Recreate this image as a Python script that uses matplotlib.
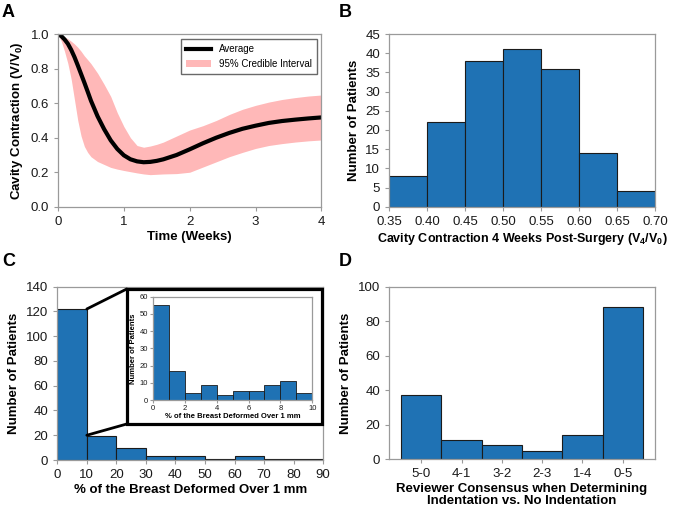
import numpy as np
import matplotlib
matplotlib.use("Agg")
import matplotlib.pyplot as plt
from matplotlib.patches import Rectangle, ConnectionPatch

plt.rcParams['font.family'] = ['Liberation Sans', 'DejaVu Sans']
plt.rcParams['mathtext.fontset'] = 'custom'
plt.rcParams['mathtext.rm'] = 'Liberation Sans'
plt.rcParams['mathtext.bf'] = 'Liberation Sans:bold'

# panel A: cavity contraction curve
t_weeks = [0, 0.05, 0.1, 0.15, 0.2, 0.25, 0.3, 0.35, 0.4, 0.45, 0.5, 0.6, 0.7, 0.8, 0.9,
           1.0, 1.1, 1.2, 1.3, 1.4, 1.5, 1.6, 1.8, 2.0, 2.2, 2.4, 2.6, 2.8, 3.0, 3.2,
           3.4, 3.6, 3.8, 4.0]
avg = [1.0, 0.99, 0.97, 0.945, 0.91, 0.868, 0.82, 0.77, 0.72, 0.668, 0.615, 0.525, 0.45,
       0.385, 0.335, 0.298, 0.275, 0.263, 0.258, 0.26, 0.266, 0.275, 0.30, 0.333, 0.368,
       0.40, 0.428, 0.452, 0.47, 0.486, 0.497, 0.505, 0.512, 0.518]
upper = [1.0, 0.995, 0.985, 0.974, 0.96, 0.944, 0.925, 0.902, 0.875, 0.853, 0.83, 0.775,
         0.71, 0.64, 0.545, 0.465, 0.40, 0.355, 0.345, 0.352, 0.362, 0.375, 0.41, 0.445,
         0.47, 0.50, 0.535, 0.565, 0.588, 0.607, 0.622, 0.633, 0.642, 0.648]
lower = [1.0, 0.96, 0.9, 0.83, 0.74, 0.62, 0.5, 0.41, 0.35, 0.315, 0.29, 0.262, 0.245,
         0.228, 0.218, 0.21, 0.203, 0.196, 0.19, 0.186, 0.188, 0.19, 0.192, 0.2, 0.23,
         0.26, 0.29, 0.315, 0.338, 0.355, 0.366, 0.375, 0.382, 0.387]

# panel B: contraction at 4 weeks
b_edges = [0.35, 0.40, 0.45, 0.50, 0.55, 0.60, 0.65, 0.70]
b_counts = [8, 22, 38, 41, 36, 14, 4]

# panel C: % breast deformed
c_edges = [0, 10, 20, 30, 40, 50, 60, 70, 80, 90]
c_counts = [122, 19, 10, 3, 3, 1, 3, 1, 1]
inset_edges = [0, 1, 2, 3, 4, 5, 6, 7, 8, 9, 10]
inset_counts = [55, 17, 4, 9, 3, 5, 5, 9, 11, 4]

# panel D: reviewer consensus
d_labels = ['5-0', '4-1', '3-2', '2-3', '1-4', '0-5']
d_counts = [37, 11, 8, 5, 14, 88]

bar_color = '#1f72b4'
edge_color = '#1b1b1b'
spine_color = '#9a9a9a'


def style(ax, fs=9.5):
    for s in ax.spines.values():
        s.set_color(spine_color)
        s.set_linewidth(0.9)
    ax.tick_params(colors=spine_color, labelcolor='#1a1a1a', labelsize=fs, length=3, width=0.8)


fig = plt.figure(figsize=(6.73, 5.07), dpi=100)

# A
axA = fig.add_axes([0.0862, 0.5923, 0.3915, 0.3400])
axA.fill_between(t_weeks, lower, upper, color='red', alpha=0.28, lw=0,
                 label='95% Credible Interval')
axA.plot(t_weeks, avg, color='black', lw=3, label='Average')
axA.set_xlim(0, 4)
axA.set_ylim(0, 1)
axA.set_xticks([0, 1, 2, 3, 4])
axA.set_yticks(np.arange(0, 1.01, 0.2))
axA.yaxis.set_major_formatter(plt.FormatStrFormatter('%.1f'))
axA.set_xlabel('Time (Weeks)', fontweight='bold', fontsize=9.5, labelpad=2)
axA.set_ylabel(r'Cavity Contraction (V/V$_\mathbf{0}$)', fontweight='bold', fontsize=9.5, labelpad=4)
h, l = axA.get_legend_handles_labels()
axA.legend(h[::-1], l[::-1], loc='upper right', fontsize=7, frameon=True, fancybox=False,
           edgecolor='#444444', handlelength=2.6, borderpad=0.5)
style(axA)

# B
axB = fig.add_axes([0.578, 0.5923, 0.3952, 0.3406])
axB.bar(b_edges[:-1], b_counts, width=np.diff(b_edges), align='edge',
        color=bar_color, edgecolor=edge_color, lw=0.8)
axB.set_xlim(0.35, 0.70)
axB.set_ylim(0, 45)
axB.set_xticks(b_edges)
axB.xaxis.set_major_formatter(plt.FormatStrFormatter('%.2f'))
axB.set_yticks(np.arange(0, 46, 5))
axB.set_xlabel(r'Cavity Contraction 4 Weeks Post-Surgery (V$_\mathbf{4}$/V$_\mathbf{0}$)',
               fontweight='bold', fontsize=9, labelpad=2)
axB.set_ylabel('Number of Patients', fontweight='bold', fontsize=9.5, labelpad=4)
style(axB)

# C
axC = fig.add_axes([0.0851, 0.0927, 0.3952, 0.3418])
axC.bar(c_edges[:-1], c_counts, width=np.diff(c_edges), align='edge',
        color=bar_color, edgecolor=edge_color, lw=0.8)
axC.set_xlim(0, 90)
axC.set_ylim(0, 140)
axC.set_xticks(c_edges)
axC.set_yticks(np.arange(0, 141, 20))
axC.set_xlabel('% of the Breast Deformed Over 1 mm', fontweight='bold', fontsize=9.5, labelpad=2)
axC.set_ylabel('Number of Patients', fontweight='bold', fontsize=9.5, labelpad=4)
style(axC)

# inset frame and connectors
frame = Rectangle((0.1883, 0.1637), 0.478 - 0.1883, 0.43 - 0.1637, transform=fig.transFigure,
                  fill=True, facecolor='white', edgecolor='black', lw=2.3, zorder=5)
fig.add_artist(frame)
for yv, fy in [(c_counts[0], 0.43), (c_counts[1] + 1, 0.1637)]:
    con = ConnectionPatch(xyA=(10, yv), coordsA=axC.transData,
                          xyB=(0.1883, fy), coordsB=fig.transFigure,
                          color='black', lw=2.0)
    fig.add_artist(con)

axI = fig.add_axes([0.2273, 0.211, 0.2367, 0.2037], zorder=6)
axI.bar(inset_edges[:-1], inset_counts, width=np.diff(inset_edges), align='edge',
        color=bar_color, edgecolor=edge_color, lw=0.6)
axI.set_xlim(0, 10)
axI.set_ylim(0, 60)
axI.set_xticks([0, 2, 4, 6, 8, 10])
axI.set_yticks(np.arange(0, 61, 10))
axI.set_xlabel('% of the Breast Deformed Over 1 mm', fontweight='bold', fontsize=5.5, labelpad=1)
axI.set_ylabel('Number of Patients', fontweight='bold', fontsize=5.5, labelpad=2)
style(axI, fs=5.5)
axI.tick_params(length=2, pad=1.5)

# D
axD = fig.add_axes([0.578, 0.0941, 0.3952, 0.3404])
xpos = np.arange(len(d_labels))
axD.bar(xpos, d_counts, width=1.0, color=bar_color, edgecolor=edge_color, lw=0.8)
axD.set_xlim(-0.8, 5.8)
axD.set_ylim(0, 100)
axD.set_xticks(xpos)
axD.set_xticklabels(d_labels)
axD.set_yticks(np.arange(0, 101, 20))
axD.set_xlabel('Reviewer Consensus when Determining\nIndentation vs. No Indentation',
               fontweight='bold', fontsize=9.5, labelpad=2, linespacing=1.0)
axD.set_ylabel('Number of Patients', fontweight='bold', fontsize=9.5, labelpad=4)
style(axD)

# panel letters
for lab, x, y in [('A', 0.003, 0.975), ('B', 0.503, 0.975), ('C', 0.003, 0.485), ('D', 0.503, 0.485)]:
    fig.text(x, y, lab, fontsize=13, fontweight='bold', va='center', ha='left')

fig.savefig('out.png', dpi=100)
